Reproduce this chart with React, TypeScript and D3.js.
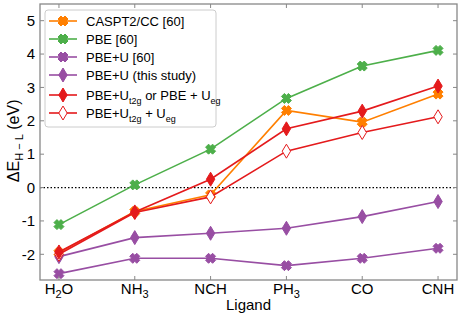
import React from 'react';
import * as d3 from 'd3';

const ligandBase = ['H', 'NH', 'NCH', 'PH', 'CO', 'CNH'];
const ligandSub = ['2', '3', '', '3', '', ''];
const ligandTail = ['O', '', '', '', '', ''];

const caspt2 = [-1.95, -0.72, -0.22, 2.31, 1.96, 2.8];
const pbe = [-1.11, 0.08, 1.15, 2.67, 3.64, 4.11];
const pbeU60 = [-2.58, -2.12, -2.12, -2.34, -2.12, -1.82];
const pbeUStudy = [-2.07, -1.5, -1.37, -1.22, -0.87, -0.42];
const pbeUt2g = [-1.93, -0.73, 0.25, 1.76, 2.29, 3.04];
const pbeUBoth = [-2.0, -0.75, -0.28, 1.09, 1.65, 2.12];

const yTicks = [-2, -1, 0, 1, 2, 3, 4, 5];

const series = [
  { name: 'caspt2', values: caspt2, color: '#ff7f00', marker: 'x', filled: true },
  { name: 'pbe', values: pbe, color: '#4daf4a', marker: 'x', filled: true },
  { name: 'pbeU60', values: pbeU60, color: '#984ea3', marker: 'x', filled: true },
  { name: 'pbeUStudy', values: pbeUStudy, color: '#984ea3', marker: 'd', filled: true },
  { name: 'pbeUBoth', values: pbeUBoth, color: '#e41a1c', marker: 'd', filled: false },
  { name: 'pbeUt2g', values: pbeUt2g, color: '#e41a1c', marker: 'd', filled: true },
];

const legendOrder = ['caspt2', 'pbe', 'pbeU60', 'pbeUStudy', 'pbeUt2g', 'pbeUBoth'];

const W = 461;
const H = 321;
const m = { left: 40, right: 4, top: 4, bottom: 41 };
const font = "'Liberation Sans', Arial, sans-serif";

const xPath = 'M-2,-5L0,-3L2,-5L5,-2L3,0L5,2L2,5L0,3L-2,5L-5,2L-3,0L-5,-2Z';
const dPath = 'M0,-7L4.2,0L0,7L-4.2,0Z';

function Marker({ x, y, type, color, filled }: any) {
  return (
    <path
      d={type === 'x' ? xPath : dPath}
      transform={`translate(${x},${y})`}
      fill={filled ? color : 'white'}
      stroke={color}
      strokeWidth={1}
    />
  );
}

function LegendLabel({ name }: { name: string }) {
  const sub = { fontSize: 9 };
  if (name === 'caspt2') return <>CASPT2/CC [60]</>;
  if (name === 'pbe') return <>PBE [60]</>;
  if (name === 'pbeU60') return <>PBE+U [60]</>;
  if (name === 'pbeUStudy') return <>PBE+U (this study)</>;
  if (name === 'pbeUt2g')
    return (
      <>
        PBE+U<tspan dy={4} style={sub}>t2g</tspan>
        <tspan dy={-4}> or PBE + U</tspan>
        <tspan dy={4} style={sub}>eg</tspan>
      </>
    );
  return (
    <>
      PBE+U<tspan dy={4} style={sub}>t2g</tspan>
      <tspan dy={-4}> + U</tspan>
      <tspan dy={4} style={sub}>eg</tspan>
    </>
  );
}

export default function App() {
  const x = d3.scaleLinear().domain([-0.25, 5.25]).range([m.left, W - m.right]);
  const y = d3.scaleLinear().domain([-2.77, 5.5]).range([H - m.bottom, m.top]);
  const line = d3
    .line<number>()
    .x((_, i) => x(i))
    .y((v) => y(v));

  const frame = '#888';

  return (
    <svg width={W} height={H} style={{ position: 'absolute', left: 0, top: 0, background: 'white' }} fontFamily={font}>
      {/* zero line */}
      <line x1={x(-0.25)} x2={x(5.25)} y1={y(0)} y2={y(0)} stroke="#000" strokeWidth={1.2} strokeDasharray="1.5,2" />

      {series.map((s) => (
        <g key={s.name}>
          <path d={line(s.values) || ''} fill="none" stroke={s.color} strokeWidth={1.6} />
          {s.values.map((v, i) => (
            <Marker key={i} x={x(i)} y={y(v)} type={s.marker} color={s.color} filled={s.filled} />
          ))}
        </g>
      ))}

      {/* frame */}
      <rect x={m.left} y={m.top} width={W - m.left - m.right} height={H - m.top - m.bottom} fill="none" stroke={frame} strokeWidth={1.3} />
      {yTicks.map((t) => (
        <g key={t}>
          <line x1={m.left} x2={m.left + 4} y1={y(t)} y2={y(t)} stroke={frame} />
          <line x1={W - m.right - 4} x2={W - m.right} y1={y(t)} y2={y(t)} stroke={frame} />
          <text x={m.left - 5} y={y(t)} dy="0.35em" textAnchor="end" fontSize={15}>
            {t}
          </text>
        </g>
      ))}
      {ligandBase.map((l, i) => (
        <g key={l}>
          <line x1={x(i)} x2={x(i)} y1={H - m.bottom} y2={H - m.bottom - 4} stroke={frame} />
          <line x1={x(i)} x2={x(i)} y1={m.top} y2={m.top + 4} stroke={frame} />
          <text x={x(i)} y={H - m.bottom + 14} textAnchor="middle" fontSize={15}>
            {ligandBase[i]}
            {ligandSub[i] && (
              <tspan dy={4} fontSize={11}>
                {ligandSub[i]}
              </tspan>
            )}
            {ligandTail[i] && <tspan dy={-4}>{ligandTail[i]}</tspan>}
          </text>
        </g>
      ))}

      <text x={(m.left + W - m.right) / 2} y={H - 11} textAnchor="middle" fontSize={15}>
        Ligand
      </text>
      <text transform={`translate(19,${y(1.4)}) rotate(-90)`} textAnchor="middle" fontSize={16}>
        ΔE<tspan dy={4} fontSize={11}>H − L</tspan>
        <tspan dy={-4}> (eV)</tspan>
      </text>

      {/* legend */}
      <rect x={45} y={10} width={171} height={117} rx={3} fill="white" fillOpacity={0.85} stroke="#ccc" />
      {legendOrder.map((n, k) => {
        const s = series.find((q) => q.name === n)!;
        const ly = [21, 39, 57, 75, 95, 113][k];
        return (
          <g key={n}>
            <line x1={49} x2={77} y1={ly} y2={ly} stroke={s.color} strokeWidth={1.6} />
            <Marker x={63} y={ly} type={s.marker} color={s.color} filled={s.filled} />
            <text x={86} y={ly} dy="0.35em" fontSize={13}>
              <LegendLabel name={n} />
            </text>
          </g>
        );
      })}
    </svg>
  );
}
